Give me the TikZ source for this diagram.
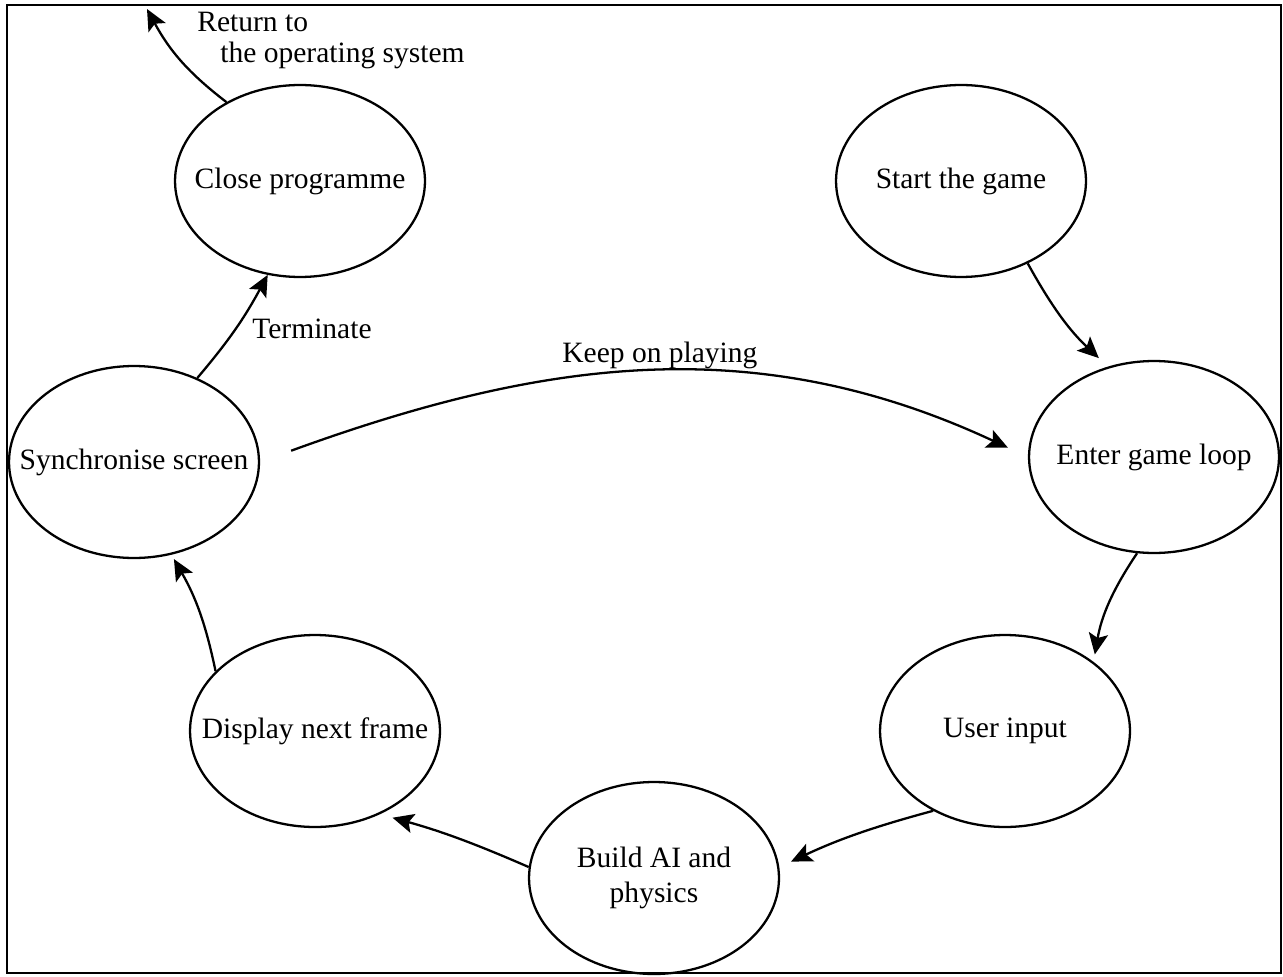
\documentclass[tikz,border=0pt]{standalone}
\usepackage{fontspec}
\setmainfont{Liberation Serif}
\usetikzlibrary{shapes.geometric, arrows.meta}

\tikzset{
	state/.style={draw, ellipse, line width=1.3pt, minimum width=5cm, minimum height=3.84cm},
	flow/.style={-{Stealth[length=12pt, width=11pt, inset=2.5pt]}, line width=1.3pt},
	note/.style={inner sep=0pt, anchor=base west}
}

\begin{document}
\begin{tikzpicture}[x=0.02cm, y=-0.02cm, font=\fontsize{16.8}{19.5}\selectfont]
				\useasboundingbox (0,0) rectangle (1283,976);
				\draw[line width=1.5pt] (7,5) rectangle (1281,973);
				
				\node[state, label=center:Close programme] (close) at (300,181) {};
				\node[state, label=center:Start the game] (start) at (961,181) {};
				\node[state, label=center:Synchronise screen] (sync) at (134,462) {};
				\node[state, label=center:Enter game loop] (enter) at (1154,457) {};
				\node[state, label=center:Display next frame] (display) at (315,731) {};
				\node[state, label=center:User input] (user) at (1005,731) {};
				\node[state, label={[align=center]center:Build AI and\\physics}] (build) at (654,878) {};
				
				\coordinate (os) at (147,9);
				\node[note] (ret1) at (197,32) {Return to};
				\node[note] (ret2) at (220,63) {the operating system};
				\node[note] (term) at (252,338) {Terminate};
				\node[note] (keep) at (562,362) {Keep on playing};
				
				\draw[flow] (close.133) to[bend left=12] (os);
				\draw[flow] (sync.53) to[bend right=6] (close.251);
				\draw[flow, shorten <=0.66cm, shorten >=0.44cm] (sync.east) to[out=20, in=155] (enter.west);
				\draw[flow, shorten >=0.25cm] (start.-51) to[bend right=9] (enter.117);
				\draw[flow, shorten >=0.15cm] (enter.260) to[bend right=12] (user.38);
				\draw[flow, shorten >=0.26cm] (user.228) to[bend right=5] (build.5);
				\draw[flow, shorten >=0.26cm] (build.175) to[bend right=4] (display.308);
				\draw[flow, shorten >=0.1cm] (display.149) to[bend right=9] (sync.292);
				
			\end{tikzpicture}
\end{document}
